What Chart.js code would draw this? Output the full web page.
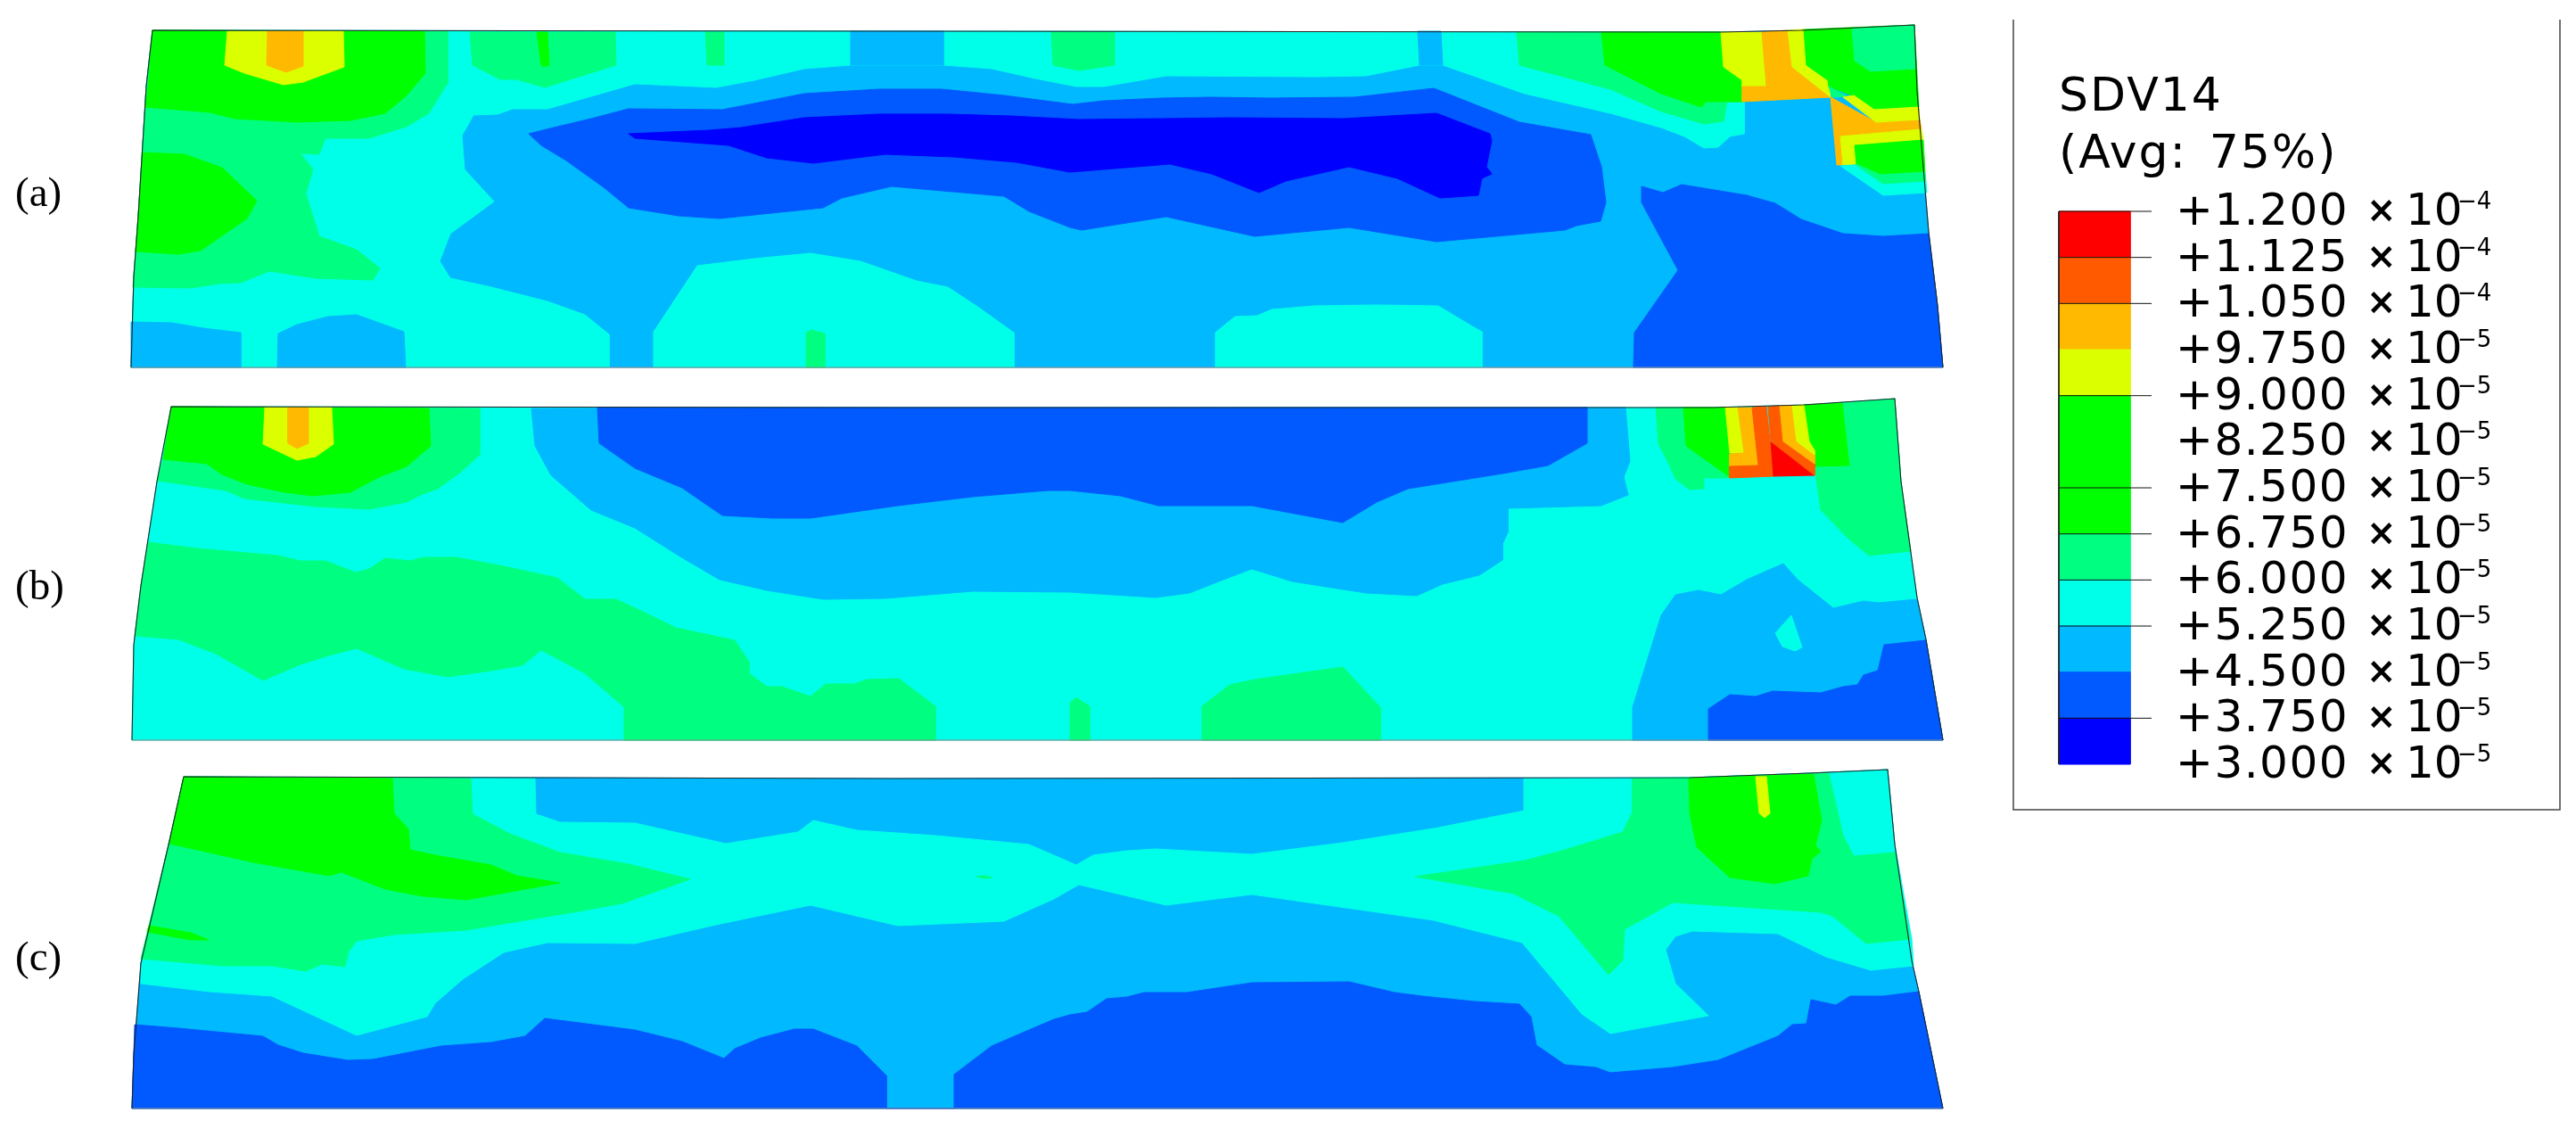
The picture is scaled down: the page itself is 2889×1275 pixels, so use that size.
<!DOCTYPE html>
<html>
<head>
<meta charset="utf-8">
<title>SDV14</title>
<script src="https://cdn.jsdelivr.net/npm/chart.js@4"></script>
<style>
  html, body { margin: 0; padding: 0; background: #fff; }
  canvas { display: block; }
</style>
</head>
<body>
<canvas id="chart" width="2889" height="1275"></canvas>
<script>
// Band colours, same as the contour legend
const RED = "#ff0000", ORANGE = "#ff5a00", AMBER = "#ffb900", YELLOW = "#dcff00", GREEN = "#00ff00";
const TEAL = "#00ff80", CYAN = "#00ffe8", SKY = "#00b9ff", BLUE = "#005aff", NAVY = "#0000ff";

const legendValues = ["+1.200", "+1.125", "+1.050", "+9.750", "+9.000", "+8.250", "+7.500", "+6.750", "+6.000", "+5.250", "+4.500", "+3.750", "+3.000"];
const legendExponents = ["−4", "−4", "−4", "−5", "−5", "−5", "−5", "−5", "−5", "−5", "−5", "−5", "−5"];
const legendColors = [RED, ORANGE, AMBER, YELLOW, GREEN, GREEN, GREEN, TEAL, CYAN, SKY, BLUE, NAVY];
const legendTicks = [0, 1, 2, 4, 6, 7, 8, 9, 11];
const legendTitle = ["SDV14", "(Avg: 75%)"];
const panelLabels = ["(a)", "(b)", "(c)"];

// Panel (a) contour outlines in image pixels
const aOutline = [[147,412],[150,310],[155,243],[164,97],[171,34],[1000,35],[1930,36],[2020,34],[2147,28],[2150,103],[2163,260],[2173,343],[2179,412]];
const aCyan = [[171,34],[1000,35],[1956,36],[1956,150],[1940,153],[1927,165],[1911,166],[1889,153],[1863,143],[1806,127],[1710,105],[1618,73],[1592,73],[1532,85],[1474,86],[1308,85],[1238,97],[1207,97],[1161,88],[1112,77],[1058,73],[954,73],[902,77],[846,90],[803,98],[712,94],[614,122],[575,122],[558,128],[531,129],[518,152],[521,190],[554,226],[505,262],[493,293],[505,312],[551,322],[614,338],[656,353],[683,375],[683,412],[147,412],[150,310],[155,243],[164,97]];
const aSkyTop1 = [[954,35],[1058,35],[1058,73],[954,73]];
const aSkyTop2 = [[1590,35],[1616,35],[1618,73],[1592,73]];
const aCyanBottom1 = [[733,412],[733,372],[782,298],[846,290],[909,284],[965,293],[1028,315],[1063,322],[1098,345],[1137,373],[1137,412]];
const aCyanBottom2 = [[1363,412],[1363,373],[1385,355],[1410,354],[1426,347],[1474,343],[1544,342],[1613,343],[1653,367],[1662,372],[1662,412]];
const aSkyLow1 = [[147,361],[193,362],[228,368],[270,373],[270,412],[147,412]];
const aSkyLow2 = [[311,412],[312,374],[333,364],[368,355],[400,353],[453,372],[455,412]];
const aTealLow = [[904,412],[904,373],[910,370],[925,374],[925,412]];
const aTealLeft = [[502,35],[502,93],[481,127],[456,142],[414,155],[365,155],[358,173],[337,172],[351,190],[343,217],[358,265],[400,280],[426,301],[418,314],[354,312],[302,304],[270,317],[246,318],[214,323],[149,322],[155,243],[164,97],[171,34]];
const aGreenTop = [[476,35],[477,82],[456,107],[432,127],[393,135],[333,137],[263,133],[235,126],[163,120],[167,90],[171,34]];
const aYellowTop = [[255,35],[252,73],[274,82],[318,95],[340,92],[386,75],[385,35]];
const aAmberTop = [[300,35],[299,73],[321,81],[340,74],[340,35]];
const aGreenLeft = [[160,171],[207,173],[249,188],[288,225],[277,245],[225,281],[200,285],[152,282]];
const aTealTop1 = [[527,36],[530,73],[561,89],[579,89],[611,98],[691,73],[690,36]];
const aGreenStrip = [[602,36],[607,73],[610,75],[616,73],[614,36]];
const aTealTop2 = [[791,36],[793,73],[812,73],[812,36]];
const aTealTop3 = [[1179,36],[1181,73],[1210,79],[1250,73],[1250,36]];
const aBlue = [[593,150],[621,143],[663,133],[705,122],[810,123],[902,105],[986,100],[1056,100],[1126,107],[1203,117],[1238,113],[1302,110],[1359,109],[1423,110],[1519,109],[1608,99],[1704,137],[1784,151],[1796,187],[1801,227],[1795,248],[1768,253],[1755,258],[1611,271],[1513,255],[1407,265],[1308,243],[1213,258],[1200,255],[1154,237],[1126,220],[1000,209],[944,222],[923,233],[807,245],[761,242],[705,233],[677,210],[635,180],[607,163]];
const aNavy = [[705,150],[796,146],[831,143],[902,132],[986,128],[1063,128],[1133,130],[1210,134],[1302,133],[1379,132],[1506,133],[1611,127],[1671,150],[1673,158],[1667,187],[1673,195],[1662,200],[1658,219],[1615,222],[1567,200],[1513,187],[1442,203],[1412,216],[1359,195],[1312,184],[1200,193],[1140,182],[1070,176],[993,173],[912,183],[860,177],[817,163],[712,155]];
const aBlueRight = [[1841,209],[1865,216],[1886,207],[1959,219],[1991,228],[2020,246],[2067,262],[2112,265],[2163,262],[2173,343],[2179,412],[1832,412],[1833,373],[1882,303],[1841,227]];
const aTealRight = [[1701,36],[1704,73],[1806,100],[1863,125],[1911,139],[1933,136],[1937,114],[1956,114],[1956,36]];
const aGreenRight = [[1796,36],[1800,73],[1863,105],[1908,120],[1913,114],[1956,114],[1954,90],[1933,75],[1930,36]];
const aYellow1 = [[1930,36],[1933,75],[1954,90],[1954,97],[1981,97],[1976,36]];
const aAmber1 = [[1976,36],[1981,97],[1954,97],[1954,114],[2053,109],[2010,75],[2005,34]];
const aYellow2 = [[2005,34],[2023,33],[2026,73],[2050,90],[2053,109],[2010,75]];
const aGreen2 = [[2023,33],[2026,73],[2050,90],[2051,97],[2077,107],[2102,123],[2152,120],[2147,28]];
const aTeal2 = [[2077,32],[2080,68],[2098,80],[2148,77],[2147,28]];
const aTealSliver = [[2051,97],[2071,108],[2055,109]];
const aAmber2 = [[2053,109],[2104,137],[2153,134],[2155,145],[2064,153],[2067,185],[2060,185]];
const aYellow3 = [[2067,109],[2079,107],[2102,123],[2152,120],[2153,134],[2104,137]];
const aYellow4 = [[2064,153],[2155,145],[2157,157],[2080,163],[2082,184],[2067,185]];
const aGreen3 = [[2080,163],[2157,157],[2159,193],[2109,196],[2082,184]];
const aTeal3 = [[2082,184],[2109,196],[2159,193],[2160,204],[2112,207],[2080,187]];
const aCyan3 = [[2064,186],[2080,185],[2112,207],[2160,204],[2161,216],[2112,219]];

// Panel (b)
const bOutline = [[148,830],[150,723],[158,657],[176,540],[192,456],[1000,457],[1921,457],[2023,454],[2125,447],[2132,540],[2150,670],[2160,717],[2179,830]];
const bSky = [[596,458],[1823,457],[1828,517],[1821,535],[1826,555],[1796,567],[1691,570],[1691,597],[1685,610],[1685,628],[1659,645],[1618,655],[1589,668],[1532,665],[1449,652],[1404,638],[1372,650],[1334,665],[1296,670],[1200,664],[1091,663],[993,671],[923,672],[860,662],[807,650],[761,623],[712,592],[663,572],[618,533],[600,500]];
const bBlue = [[670,457],[672,497],[712,525],[765,547],[810,578],[866,581],[909,581],[1007,567],[1091,557],[1175,550],[1200,550],[1257,556],[1299,567],[1404,567],[1506,586],[1544,563],[1579,548],[1685,531],[1736,522],[1780,497],[1780,457]];
const bSkyRight = [[1831,830],[1831,793],[1863,690],[1879,667],[1905,662],[1930,667],[1959,650],[2000,632],[2016,650],[2056,682],[2090,674],[2106,676],[2150,672],[2160,717],[2179,830]];
const bBlueRight = [[1916,830],[1916,795],[1940,779],[1969,781],[1988,775],[2042,777],[2067,770],[2083,768],[2090,757],[2106,752],[2113,723],[2160,718],[2179,830]];
const bCyanIsland = [[2009,690],[1991,710],[1999,725],[2013,730],[2021,726]];
const bTealBig = [[166,608],[221,615],[312,623],[337,629],[365,629],[399,642],[414,638],[432,626],[460,629],[474,625],[512,625],[565,635],[625,648],[656,672],[691,672],[719,685],[758,704],[824,718],[840,742],[840,755],[860,770],[877,770],[909,781],[926,767],[958,767],[972,762],[1008,761],[1049,792],[1049,830],[700,830],[700,793],[656,755],[607,729],[586,746],[551,752],[502,759],[453,750],[400,727],[369,735],[337,745],[295,763],[242,733],[200,717],[151,713],[158,657]];
const bTealStrip = [[1200,830],[1200,788],[1207,782],[1222,792],[1222,830]];
const bTealBlob = [[1348,830],[1348,792],[1379,768],[1407,762],[1506,748],[1548,793],[1548,830]];
const bTealTop = [[538,458],[538,510],[516,530],[491,548],[474,554],[456,563],[414,571],[354,568],[274,559],[253,550],[176,539],[183,515],[192,456]];
const bGreenTop = [[481,458],[483,500],[456,523],[425,535],[393,552],[351,556],[319,552],[277,543],[249,532],[232,520],[183,515],[192,456]];
const bYellowTop = [[297,457],[295,498],[333,516],[354,512],[374,498],[372,457]];
const bAmberTop = [[323,457],[323,497],[333,503],[346,497],[346,457]];
const bTealRight1 = [[2035,523],[2042,572],[2074,605],[2096,623],[2143,618],[2132,540],[2125,447],[2067,452],[2035,454]];
const bTealRight2 = [[1857,457],[1860,498],[1873,523],[1879,537],[1895,549],[1911,548],[1911,536],[1940,536],[1921,457]];
const bGreen1 = [[1888,457],[1891,500],[1940,535],[1940,457]];
const bGreen2 = [[2023,454],[2029,495],[2035,523],[2074,522],[2066,452]];
const bYellowL = [[1935,457],[1940,508],[1956,508],[1949,457]];
const bAmberL = [[1949,457],[1956,508],[1940,509],[1940,523],[1972,522],[1965,457]];
const bOrangeL = [[1965,457],[1972,522],[1940,523],[1940,536],[1989,534],[1981,456]];
const bRed = [[1986,495],[1989,534],[2035,533],[2010,512]];
const bOrangeR = [[1983,456],[1996,455],[2000,495],[2035,520],[2035,533],[1986,495]];
const bAmberR = [[1996,455],[2010,455],[2015,495],[2035,510],[2035,520],[2000,495]];
const bYellowR = [[2010,455],[2023,454],[2029,495],[2035,505],[2035,510],[2015,495]];

// Panel (c)
const cOutline = [[148,1243],[150,1183],[158,1080],[190,943],[206,871],[1000,873],[1895,872],[2029,867],[2117,863],[2125,947],[2144,1077],[2152,1112],[2179,1243]];
const cBlue = [[151,1149],[200,1153],[295,1162],[312,1172],[340,1181],[390,1189],[418,1188],[495,1173],[551,1169],[589,1162],[611,1142],[712,1155],[765,1168],[812,1187],[824,1176],[853,1164],[891,1154],[912,1154],[961,1173],[994,1206],[994,1243],[1070,1243],[1070,1205],[1112,1173],[1182,1143],[1200,1138],[1219,1135],[1241,1120],[1264,1118],[1283,1113],[1331,1113],[1404,1102],[1513,1101],[1564,1113],[1595,1117],[1653,1123],[1704,1126],[1717,1140],[1723,1172],[1755,1194],[1790,1197],[1806,1203],[1876,1197],[1927,1189],[1994,1162],[2010,1149],[2026,1148],[2031,1121],[2059,1127],[2075,1117],[2112,1117],[2152,1112],[2179,1243],[148,1243]];
const cCyan = [[206,871],[600,873],[601,913],[628,922],[712,923],[814,946],[895,933],[912,920],[961,931],[1049,937],[1154,947],[1207,970],[1226,959],[1264,954],[1296,952],[1404,958],[1506,945],[1608,929],[1710,909],[1709,873],[1895,872],[2029,867],[2117,863],[2125,947],[2144,1053],[2146,1083],[2098,1088],[2048,1073],[1994,1047],[1898,1044],[1879,1050],[1868,1065],[1879,1103],[1916,1139],[1806,1159],[1774,1137],[1707,1057],[1608,1032],[1404,1003],[1308,1015],[1210,992],[1182,1008],[1126,1033],[1007,1038],[909,1015],[803,1037],[712,1058],[614,1057],[565,1068],[519,1098],[488,1125],[479,1140],[400,1161],[305,1117],[235,1112],[158,1103],[158,1080],[190,943]];
const cTealLeft = [[528,873],[530,913],[572,935],[628,956],[705,969],[774,986],[698,1013],[649,1022],[523,1043],[442,1048],[400,1055],[391,1067],[387,1084],[361,1081],[343,1089],[305,1083],[249,1083],[158,1075],[190,943],[206,871]];
const cGreenLeft = [[440,873],[442,912],[458,930],[460,953],[488,959],[551,970],[579,982],[628,990],[523,1009],[474,1005],[432,997],[383,978],[369,982],[284,967],[190,946],[206,871]];
const cGreenSliver = [[167,1038],[214,1046],[234,1054],[214,1054],[165,1045]];
const cTealTiny = [[1095,983],[1104,982],[1113,984],[1104,985]];
const cTealRight = [[1831,873],[1831,910],[1820,933],[1755,953],[1710,965],[1587,983],[1697,1002],[1748,1027],[1804,1093],[1820,1077],[1822,1042],[1876,1012],[2042,1023],[2055,1027],[2093,1058],[2142,1053],[2125,956],[2079,960],[2067,937],[2051,867],[1895,872]];
const cGreenRight = [[1894,873],[1895,912],[1903,950],[1940,984],[1991,991],[2028,982],[2032,963],[2042,955],[2036,948],[2043,920],[2034,868]];
const cYellowStrip = [[1969,871],[1973,912],[1979,917],[1985,912],[1981,871]];

// Legend frame
const frameLeft = [[2258,22],[2258,908],[2871,908],[2871,22]];

// Painter's order, first is at the back
const layers = [
  [SKY, aOutline], [CYAN, aCyan], [SKY, aSkyTop1], [SKY, aSkyTop2], [CYAN, aCyanBottom1], [CYAN, aCyanBottom2],
  [SKY, aSkyLow1], [SKY, aSkyLow2], [TEAL, aTealLow], [TEAL, aTealLeft], [GREEN, aGreenTop], [YELLOW, aYellowTop],
  [AMBER, aAmberTop], [GREEN, aGreenLeft], [TEAL, aTealTop1], [GREEN, aGreenStrip], [TEAL, aTealTop2], [TEAL, aTealTop3],
  [BLUE, aBlue], [NAVY, aNavy], [BLUE, aBlueRight], [TEAL, aTealRight], [GREEN, aGreenRight], [YELLOW, aYellow1],
  [AMBER, aAmber1], [YELLOW, aYellow2], [GREEN, aGreen2], [TEAL, aTeal2], [TEAL, aTealSliver], [AMBER, aAmber2],
  [YELLOW, aYellow3], [YELLOW, aYellow4], [GREEN, aGreen3], [TEAL, aTeal3], [CYAN, aCyan3],

  [CYAN, bOutline], [SKY, bSky], [BLUE, bBlue], [SKY, bSkyRight], [BLUE, bBlueRight], [CYAN, bCyanIsland], [TEAL, bTealBig],
  [TEAL, bTealStrip], [TEAL, bTealBlob], [TEAL, bTealTop], [GREEN, bGreenTop], [YELLOW, bYellowTop], [AMBER, bAmberTop],
  [TEAL, bTealRight1], [TEAL, bTealRight2], [GREEN, bGreen1], [GREEN, bGreen2], [YELLOW, bYellowL], [AMBER, bAmberL],
  [ORANGE, bOrangeL], [RED, bRed], [ORANGE, bOrangeR], [AMBER, bAmberR], [YELLOW, bYellowR],

  [SKY, cOutline], [BLUE, cBlue], [CYAN, cCyan], [TEAL, cTealLeft], [GREEN, cGreenLeft], [GREEN, cGreenSliver], [TEAL, cTealTiny],
  [TEAL, cTealRight], [GREEN, cGreenRight], [YELLOW, cYellowStrip]
];

const toPoints = pts => pts.map(p => ({ x: p[0], y: p[1] }));

function polygon(color, pts) {
  return {
    type: "scatter",
    showLine: true,
    data: toPoints(pts.concat([pts[0]])),
    borderColor: color,
    backgroundColor: color,
    borderWidth: 1,
    pointRadius: 0,
    tension: 0,
    fill: "shape"
  };
}

function stroke(color, width, pts) {
  return {
    type: "scatter",
    showLine: true,
    data: toPoints(pts),
    borderColor: color,
    borderWidth: width,
    pointRadius: 0,
    tension: 0,
    fill: false
  };
}

// Colour bar of the legend
const barLeft = 2309, barRight = 2389, tickRight = 2413, barTop = 237, barStep = 51.67;
const barY = i => barTop + i * barStep;

const datasets = layers.map(l => polygon(l[0], l[1]));
[aOutline, bOutline, cOutline].forEach(o => {
  datasets.push(stroke("#8a8a8a", 1.2, [o[o.length - 1], o[0]]));
  datasets.push(stroke("#222222", 1.1, o));
});
datasets.push(stroke("#444444", 1.5, frameLeft));
legendColors.forEach((c, i) => {
  datasets.push(polygon(c, [[barLeft, barY(i)], [barRight, barY(i)], [barRight, barY(i + 1)], [barLeft, barY(i + 1)]]));
});
legendTicks.forEach(i => datasets.push(stroke("#111111", 1, [[barLeft, barY(i)], [tickRight, barY(i)]])));
datasets.push(stroke("#222222", 1, [[barLeft, barY(0)], [barLeft, barY(12)]]));

// Chart.js paints the first dataset last, so flip the list
datasets.reverse();

// Legend text and the (a) (b) (c) labels
const textPlugin = {
  id: "chartText",
  afterDatasetsDraw(chart) {
    const ctx = chart.ctx;
    const sx = chart.scales.x, sy = chart.scales.y;
    ctx.save();
    ctx.fillStyle = "#000";
    ctx.textBaseline = "alphabetic";
    ctx.textAlign = "left";

    ctx.font = "52px 'DejaVu Sans'";
    ctx.letterSpacing = "2px";
    ctx.wordSpacing = "6px";
    ctx.fillText(legendTitle[0], sx.getPixelForValue(2309), sy.getPixelForValue(124));
    ctx.fillText(legendTitle[1], sx.getPixelForValue(2309), sy.getPixelForValue(188));
    ctx.wordSpacing = "0px";

    legendValues.forEach((v, i) => {
      const y = sy.getPixelForValue(252 + i * barStep);
      ctx.font = "50px 'DejaVu Sans'";
      ctx.letterSpacing = "1.5px";
      ctx.fillText(v, sx.getPixelForValue(2440), y);
      ctx.letterSpacing = "0px";
      ctx.fillText("10", sx.getPixelForValue(2698), y);
      ctx.font = "bold 40px 'DejaVu Sans'";
      ctx.fillText("×", sx.getPixelForValue(2654), y - 3);
      ctx.font = "26px 'DejaVu Sans'";
      ctx.fillText(legendExponents[i], sx.getPixelForValue(2756), y - 18);
    });

    ctx.font = "47px 'Liberation Serif'";
    [231, 672, 1088].forEach((y, i) => {
      ctx.fillText(panelLabels[i], sx.getPixelForValue(17), sy.getPixelForValue(y));
    });
    ctx.restore();
  }
};

new Chart(document.getElementById("chart"), {
  type: "scatter",
  data: { datasets: datasets },
  options: {
    responsive: false,
    animation: false,
    layout: { padding: 0 },
    plugins: { legend: { display: false }, tooltip: { enabled: false } },
    scales: {
      x: { type: "linear", min: 0, max: 2889, display: false },
      y: { type: "linear", min: 0, max: 1275, reverse: true, display: false }
    }
  },
  plugins: [textPlugin]
});
</script>
</body>
</html>
